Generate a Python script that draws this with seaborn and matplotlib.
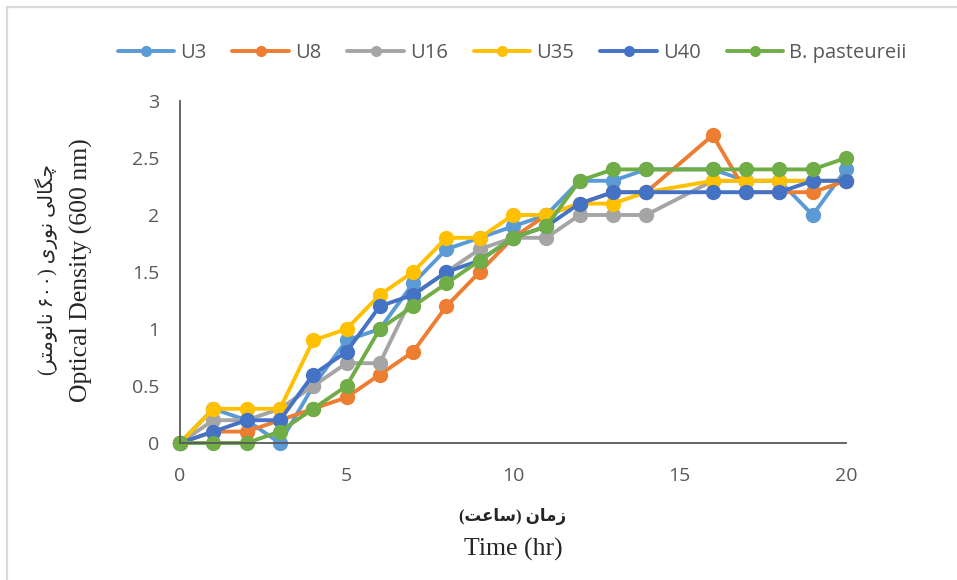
import numpy as np
import pandas as pd
import matplotlib
matplotlib.use("Agg")
import matplotlib.pyplot as plt
import seaborn as sns
from matplotlib.lines import Line2D
from matplotlib.patches import Rectangle

# ---------------- data ----------------
hours = [0, 1, 2, 3, 4, 5, 6, 7, 8, 9, 10, 11, 12, 13, 14, 16, 17, 18, 19, 20]
u3  = [0, 0.3, 0.2, 0.0, 0.5, 0.9, 1.0, 1.4, 1.7, 1.8, 1.9, 2.0, 2.3, 2.3, 2.4, 2.4, 2.3, 2.3, 2.0, 2.4]
u8  = [0, 0.1, 0.1, 0.2, 0.3, 0.4, 0.6, 0.8, 1.2, 1.5, 1.8, 2.0, 2.1, 2.2, 2.2, 2.7, 2.2, 2.2, 2.2, 2.3]
u16 = [0, 0.2, 0.2, 0.3, 0.5, 0.7, 0.7, 1.3, 1.5, 1.7, 1.8, 1.8, 2.0, 2.0, 2.0, 2.3, 2.3, 2.3, 2.3, 2.3]
u35 = [0, 0.3, 0.3, 0.3, 0.9, 1.0, 1.3, 1.5, 1.8, 1.8, 2.0, 2.0, 2.1, 2.1, 2.2, 2.3, 2.3, 2.3, 2.3, 2.3]
u40 = [0, 0.1, 0.2, 0.2, 0.6, 0.8, 1.2, 1.3, 1.5, 1.6, 1.8, 1.9, 2.1, 2.2, 2.2, 2.2, 2.2, 2.2, 2.3, 2.3]
bpa = [0, 0.0, 0.0, 0.1, 0.3, 0.5, 1.0, 1.2, 1.4, 1.6, 1.8, 1.9, 2.3, 2.4, 2.4, 2.4, 2.4, 2.4, 2.4, 2.5]

strains = ["U3", "U8", "U16", "U35", "U40", "B. pasteureii"]
colors = ["#5B9BD5", "#ED7D31", "#A5A5A5", "#FFC000", "#4472C4", "#70AD47"]

series = dict(zip(strains, [u3, u8, u16, u35, u40, bpa]))
df = pd.concat([pd.DataFrame({"Time": hours, "OD": v, "Strain": k}) for k, v in series.items()])

# ---------------- tiny arabic shaping (matplotlib has no bidi) ----------------
FORMS = {
    "ا": ("\uFE8D", "\uFE8E", None, None),
    "ر": ("\uFEAD", "\uFEAE", None, None),
    "ز": ("\uFEAF", "\uFEB0", None, None),
    "و": ("\uFEED", "\uFEEE", None, None),
    "ت": ("\uFE95", "\uFE96", "\uFE97", "\uFE98"),
    "س": ("\uFEB1", "\uFEB2", "\uFEB3", "\uFEB4"),
    "ع": ("\uFEC9", "\uFECA", "\uFECB", "\uFECC"),
    "ل": ("\uFEDD", "\uFEDE", "\uFEDF", "\uFEE0"),
    "م": ("\uFEE1", "\uFEE2", "\uFEE3", "\uFEE4"),
    "ن": ("\uFEE5", "\uFEE6", "\uFEE7", "\uFEE8"),
    "چ": ("\uFB7A", "\uFB7B", "\uFB7C", "\uFB7D"),
    "گ": ("\uFB92", "\uFB93", "\uFB94", "\uFB95"),
    "ی": ("\uFBFC", "\uFBFD", "\uFBFE", "\uFBFF"),
}


def rtl(word):
    out = []
    for i, ch in enumerate(word):
        iso, fin, ini, med = FORMS[ch]
        jp = i > 0 and FORMS[word[i - 1]][2] is not None
        jn = i + 1 < len(word) and ini is not None
        out.append(med if (jp and jn) else fin if jp else ini if jn else iso)
    return "".join(reversed(out))


# visual (left-to-right) order of "زمان (ساعت)" and "چگالی نوری (۶۰۰ نانومتر)"
fa_x = "(" + rtl("ساعت") + ") " + rtl("زمان")
fa_y = "(" + rtl("نانومتر") + " ۶۰۰) " + rtl("نوری") + " " + rtl("چگالی")

# ---------------- plot ----------------
sns.set_theme(style="white")
plt.rcParams["font.family"] = ["Open Sans", "DejaVu Sans"]

fig = plt.figure(figsize=(9.57, 5.8), dpi=100)
ax = fig.add_axes([180 / 957, 1 - 443 / 580, (846 - 180) / 957, (443 - 101) / 580])

sns.lineplot(data=df, x="Time", y="OD", hue="Strain", hue_order=strains,
             palette=colors, marker="o", markersize=11, markeredgewidth=0,
             linewidth=2.8, legend=False, ax=ax, clip_on=False)

ax.set_xlim(0, 20)
ax.set_ylim(0, 3)
ax.set_xticks([0, 5, 10, 15, 20])
ax.set_yticks([0, 0.5, 1, 1.5, 2, 2.5, 3])
ax.set_yticklabels(["0", "0.5", "1", "1.5", "2", "2.5", "3"])
ax.set_xlabel("")
ax.set_ylabel("")
for s in ["top", "right"]:
    ax.spines[s].set_visible(False)
for s in ["left", "bottom"]:
    ax.spines[s].set_color("#595959")
    ax.spines[s].set_linewidth(1.3)
ax.tick_params(direction="in", length=6, width=1.3, color="#595959",
               labelcolor="#595959", labelsize=14)
ax.tick_params(axis="y", pad=15)
ax.tick_params(axis="x", pad=17)

# axis titles (english + persian)
fig.text(0.536, 0.052, "Time (hr)", ha="center", va="center", fontsize=18.5,
         family=["Liberation Serif", "DejaVu Sans"])
fig.text(0.536, 0.110, fa_x, ha="center", va="center", fontsize=12,
         fontweight="bold", family=["Liberation Serif", "DejaVu Sans"])
fig.text(0.0846, 0.535, "Optical Density (600 nm)", ha="center", va="center",
         rotation=90, fontsize=18.5, family=["Liberation Serif", "DejaVu Sans"])
fig.text(0.049, 0.535, fa_y, ha="center", va="center", rotation=90,
         fontsize=14.5, family=["Liberation Serif", "DejaVu Sans"])

# legend
handles = [Line2D([], [], color=c, lw=2.8, marker="o", markersize=8, markeredgewidth=0)
           for c in colors]
fig.legend(handles, strains, loc="center", bbox_to_anchor=(0.535, 0.908), ncol=6,
           frameon=False, fontsize=14.5, handlelength=2.8, handletextpad=0.3,
           columnspacing=1.3, labelcolor="#595959")

# chart-area border
fig.patches.append(Rectangle((7 / 957, -0.1), 1.2, 1 - 7 / 580 + 0.1,
                             transform=fig.transFigure, fill=False,
                             edgecolor="#D9D9D9", lw=1.6))

fig.savefig("out.png", dpi=100)
